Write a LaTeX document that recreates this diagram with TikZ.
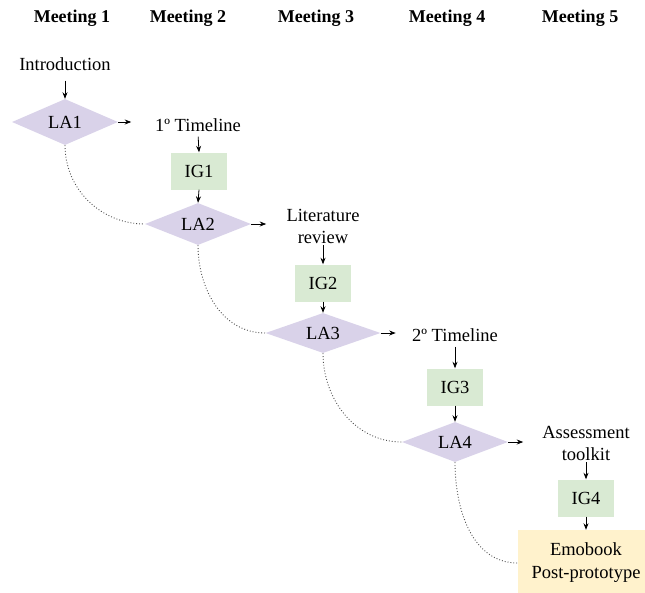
\documentclass[tikz,border=0pt]{standalone}
\usepackage{fontspec}
\setmainfont{Liberation Serif}
\newfontfamily\tms{Liberation Serif}
\usetikzlibrary{shapes.geometric,arrows.meta}
\definecolor{lav}{RGB}{217,210,233}
\definecolor{grn}{RGB}{217,234,211}
\definecolor{yel}{RGB}{255,242,204}
\tikzset{
  every node/.style={font=\tms},
  hdr/.style={font=\tms\fontsize{18}{20}\selectfont\bfseries, inner sep=0pt},
  txt/.style={font=\tms\fontsize{18.5}{22}\selectfont, inner sep=2pt, align=center},
  dia/.style={shape=diamond, fill=lav, inner sep=0pt, aspect=2.5,
     minimum width=106pt, minimum height=46pt, font=\tms\fontsize{18.5}{20}\selectfont},
  igbox/.style={rectangle, fill=grn, minimum width=56pt, minimum height=37pt,
     inner sep=0pt, font=\tms\fontsize{18.5}{20}\selectfont},
  finalbox/.style={rectangle, fill=yel, minimum width=136pt, minimum height=66pt,
     inner sep=0pt, align=center, font=\tms\fontsize{18.5}{23}\selectfont},
  arr/.style={-{Stealth[length=6.5pt,width=5pt]}, line width=0.8pt, black},
  dots/.style={dotted, line width=0.9pt, black!70},
}
\begin{document}
\begin{tikzpicture}[x=1pt,y=-1pt]
\useasboundingbox (0,0) rectangle (645,592);
\clip (0,0) rectangle (645,592);
% headers
\node[hdr] (h1) at (72,18) {Meeting 1};
\node[hdr] (h2) at (188,18) {Meeting 2};
\node[hdr] (h3) at (316,18) {Meeting 3};
\node[hdr] (h4) at (447,18) {Meeting 4};
\node[hdr] (h5) at (580,18) {Meeting 5};
% nodes
\node[txt] (intro) at (65,64) {Introduction};
\node[dia] (LA1) at (65,122) {LA1};
\node[txt] (t1) at (198,125) {1º Timeline};
\node[igbox] (IG1) at (199,171) {IG1};
\node[dia, minimum height=42pt] (LA2) at (198,224) {LA2};
\node[txt] (lit) at (323,226) {Literature\\review};
\node[igbox] (IG2) at (323,283) {IG2};
\node[dia, minimum width=115pt, minimum height=40pt] (LA3) at (323,333) {LA3};
\node[txt] (t2) at (455,335) {2º Timeline};
\node[igbox] (IG3) at (455,387) {IG3};
\node[dia, minimum height=40pt] (LA4) at (455,442) {LA4};
\node[txt] (assess) at (586,443) {Assessment\\toolkit};
\node[igbox] (IG4) at (586,498) {IG4};
\node[finalbox] (emo) at (586,563) {Emobook\\Post-prototype};
% arrows
\draw[arr, shorten <=8pt] (intro.south) -- (LA1.north);
\draw[arr] (LA1.east) -- ++(13,0);
\draw[arr, shorten <=3pt] (t1.south) -- (IG1.north);
\draw[arr] (IG1.south) -- (LA2.north);
\draw[arr] (LA2.east) -- ++(15,0);
\draw[arr] (lit.south) -- (IG2.north);
\draw[arr] (IG2.south) -- (LA3.north);
\draw[arr] (LA3.east) -- ++(15,0);
\draw[arr, shorten <=3pt] (t2.south) -- (IG3.north);
\draw[arr] (IG3.south) -- (LA4.north);
\draw[arr] (LA4.east) -- ++(15,0);
\draw[arr] (assess.south) -- (IG4.north);
\draw[arr] (IG4.south) -- (emo.north);
% dotted curves
\draw[dots] (LA1.south) to[out=-90,in=180] (LA2.west);
\draw[dots] (LA2.south) to[out=-90,in=180] (LA3.west);
\draw[dots] (LA3.south) to[out=-90,in=180] (LA4.west);
\draw[dots] (LA4.south) to[out=-90,in=180] (emo.west);
\end{tikzpicture}
\end{document}
